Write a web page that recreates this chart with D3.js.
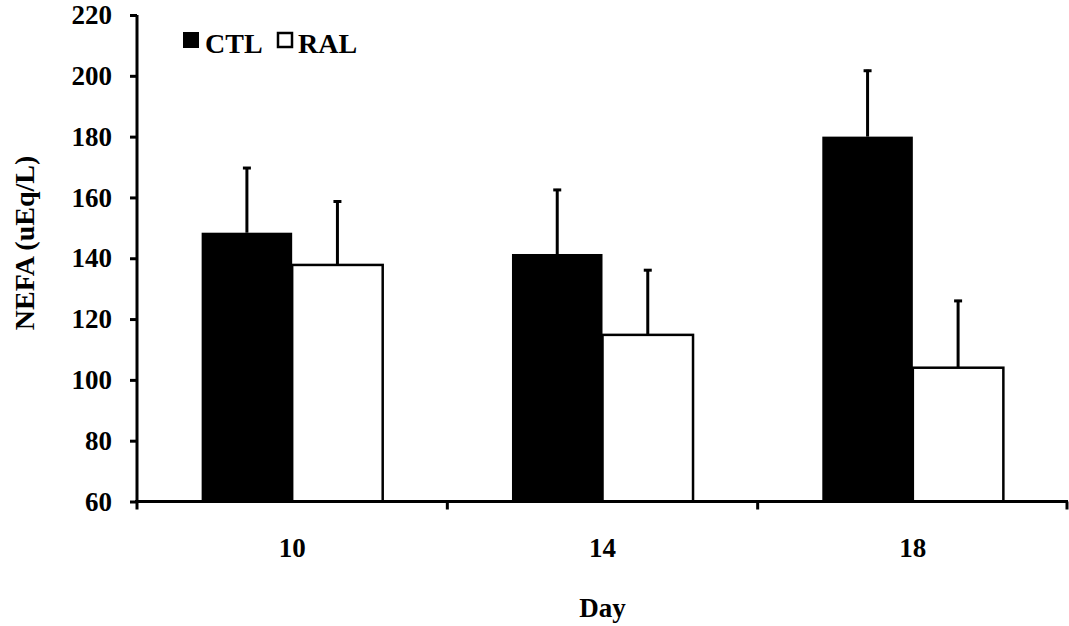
<!DOCTYPE html>
<html>
<head>
<meta charset="utf-8">
<script src="https://cdn.jsdelivr.net/npm/d3@7"></script>
<style>
  body { margin: 0; background: #fff; }
  svg { display: block; }
  text { font-family: "Liberation Serif", "Times New Roman", serif; font-weight: bold; fill: #000; }
</style>
</head>
<body>
<svg width="1069" height="626"></svg>
<script>
const days = ["10", "14", "18"];
const seriesNames = ["CTL", "RAL"];
const ctlValues = [148.4, 141.4, 180.0];
const ctlErrors = [21.6, 21.4, 22.0];
const ralValues = [137.8, 114.8, 104.0];
const ralErrors = [21.2, 21.6, 22.3];
const yTicks = [60, 80, 100, 120, 140, 160, 180, 200, 220];

function buildRows() {
    let rows = [];
    days.forEach((d, i) => {
        rows.push({day: d, series: "CTL", value: ctlValues[i], err: ctlErrors[i]});
        rows.push({day: d, series: "RAL", value: ralValues[i], err: ralErrors[i]});
    });
    return rows;
}

function drawChart() {
    let svg = d3.select("svg");
    svg.selectAll('*').remove();

    const area = {left: 137, right: 1068, top: 15, bottom: 501.5};
    const rows = buildRows();

    let scaleX = d3.scaleBand()
        .domain(days)
        .range([area.left, area.right]);

    let scaleS = d3.scaleBand()
        .domain(seriesNames)
        .range([0, scaleX.bandwidth()])
        .paddingInner(0)
        .paddingOuter(0.714);

    let scaleY = d3.scaleLinear()
        .domain([60, 220])
        .range([area.bottom, area.top]);

    // bars
    svg.append("g").selectAll("rect")
        .data(rows)
        .enter()
        .append("rect")
        .attr("x", d => scaleX(d.day) + scaleS(d.series))
        .attr("y", d => scaleY(d.value))
        .attr("width", scaleS.bandwidth())
        .attr("height", d => scaleY(60) - scaleY(d.value))
        .style("fill", d => d.series == "CTL" ? "#000" : "#fff")
        .style("stroke", d => d.series == "CTL" ? "none" : "#000")
        .style("stroke-width", 2.5);

    // error bars (upper only)
    let eb = svg.append("g").selectAll(".err")
        .data(rows)
        .enter()
        .append("g");
    eb.append("line")
        .attr("x1", d => scaleX(d.day) + scaleS(d.series) + scaleS.bandwidth() / 2)
        .attr("x2", d => scaleX(d.day) + scaleS(d.series) + scaleS.bandwidth() / 2)
        .attr("y1", d => scaleY(d.value))
        .attr("y2", d => scaleY(d.value + d.err))
        .style("stroke", "#000")
        .style("stroke-width", 3);
    eb.append("line")
        .attr("x1", d => scaleX(d.day) + scaleS(d.series) + scaleS.bandwidth() / 2 - 4)
        .attr("x2", d => scaleX(d.day) + scaleS(d.series) + scaleS.bandwidth() / 2 + 4)
        .attr("y1", d => scaleY(d.value + d.err) + 1)
        .attr("y2", d => scaleY(d.value + d.err) + 1)
        .style("stroke", "#000")
        .style("stroke-width", 3);

    // y axis
    let axisY = d3.axisLeft(scaleY).tickValues(yTicks).tickSize(7).tickPadding(18);
    let gy = svg.append("g")
        .attr("transform", `translate(${area.left}, 0)`)
        .call(axisY);
    gy.select(".domain").attr("d", `M0,${area.top}V${area.bottom}`).style("stroke-width", 3);
    gy.selectAll(".tick line").style("stroke-width", 3);
    gy.selectAll("text")
        .style("font-size", "27px")
        .style("font-family", '"Liberation Serif", serif')
        .style("font-weight", "bold");

    // x axis: labels at band centres, ticks at band edges
    let axisX = d3.axisBottom(scaleX).tickSize(0).tickPadding(36);
    let gx = svg.append("g")
        .attr("transform", `translate(0, ${area.bottom})`)
        .call(axisX);
    gx.select(".domain").attr("d", `M${area.left - 2},0H${area.right}`).style("stroke-width", 3);
    gx.selectAll("text")
        .style("font-size", "27px")
        .style("font-family", '"Liberation Serif", serif')
        .style("font-weight", "bold");

    let edges = days.map(d => scaleX(d)).concat([scaleX(days[days.length - 1]) + scaleX.bandwidth()]);
    svg.append("g").selectAll("line")
        .data(edges)
        .enter()
        .append("line")
        .attr("x1", d => Math.min(d, area.right - 1))
        .attr("x2", d => Math.min(d, area.right - 1))
        .attr("y1", area.bottom)
        .attr("y2", area.bottom + 8)
        .style("stroke", "#000")
        .style("stroke-width", 3);

    // axis titles
    svg.append("text")
        .attr("x", (area.left + area.right) / 2)
        .attr("y", 617)
        .attr("text-anchor", "middle")
        .style("font-size", "27px")
        .text("Day");

    svg.append("text")
        .attr("transform", "rotate(-90)")
        .attr("x", -243)
        .attr("y", 34)
        .attr("text-anchor", "middle")
        .style("font-size", "28px")
        .text("NEFA (uEq/L)");

    // legend
    const legX = [183, 277];
    const legTextX = [205, 298];
    let leg = svg.append("g").selectAll("g")
        .data(seriesNames)
        .enter()
        .append("g");
    leg.append("rect")
        .attr("x", (d, i) => legX[i] + (i == 1 ? 1 : 0))
        .attr("y", (d, i) => 32 + (i == 1 ? 1 : 0))
        .attr("width", (d, i) => i == 1 ? 14 : 16)
        .attr("height", (d, i) => i == 1 ? 14 : 16)
        .style("fill", d => d == "CTL" ? "#000" : "#fff")
        .style("stroke", d => d == "CTL" ? "none" : "#000")
        .style("stroke-width", 2.5);
    leg.append("text")
        .attr("x", (d, i) => legTextX[i])
        .attr("y", 53)
        .style("font-size", "28px")
        .text(d => d);
}

drawChart();
</script>
</body>
</html>
